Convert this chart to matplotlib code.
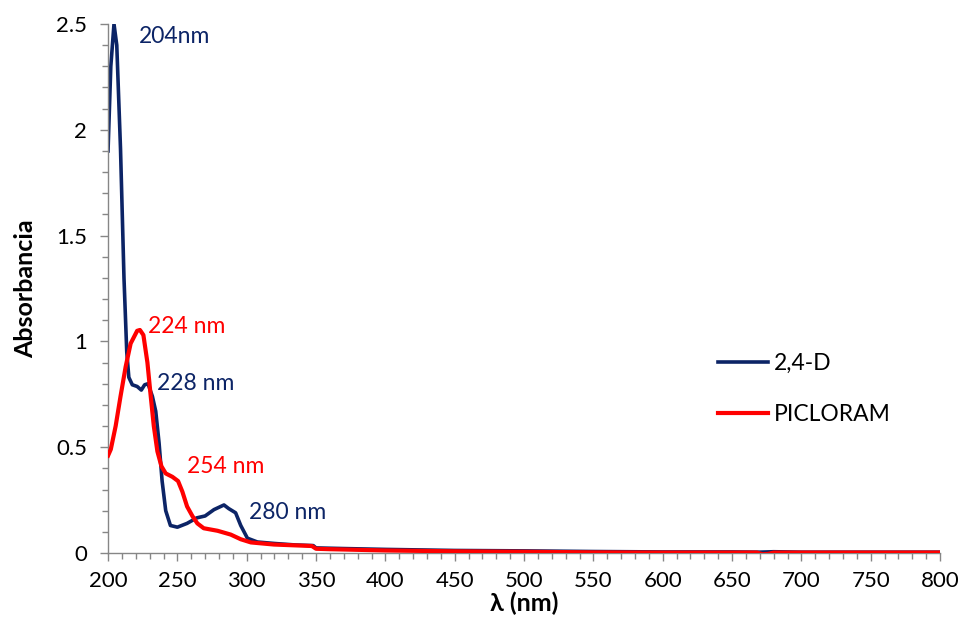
import matplotlib
matplotlib.use("Agg")
import matplotlib.pyplot as plt
from matplotlib.ticker import MultipleLocator, FuncFormatter

# ---- data ----
wl_24d = [200, 202, 204.3, 206.3, 209, 211.5, 213.5, 215, 217.5, 221, 224, 226.4, 228.8,
          232, 234.4, 236.8, 239, 241.6, 245, 250, 257, 264, 270, 276.4, 283.6, 287,
          292, 295.7, 300.5, 307.7, 320, 335, 348, 350, 370, 400, 450, 500, 550, 600,
          650, 670, 680, 700, 750, 800]
abs_24d = [1.90, 2.30, 2.50, 2.40, 1.91, 1.30, 0.95, 0.83, 0.795, 0.787, 0.77, 0.795, 0.80,
           0.74, 0.67, 0.52, 0.34, 0.20, 0.13, 0.122, 0.14, 0.166, 0.175, 0.205, 0.227, 0.21,
           0.19, 0.13, 0.07, 0.052, 0.045, 0.038, 0.035, 0.024, 0.021, 0.017, 0.012, 0.010,
           0.007, 0.005, 0.005, 0.004, 0.006, 0.004, 0.004, 0.004]

wl_pic = [200, 202, 205.5, 209, 212.7, 216.3, 221, 223, 225.5, 228.4, 230.8, 233, 235.6,
          238.5, 241.6, 246.4, 250.5, 253.6, 257, 260.8, 264.4, 269, 279, 288.5, 295.7,
          303, 319.7, 347, 350, 360, 400, 450, 500, 550, 600, 650, 668, 672, 676, 680,
          700, 750, 800]
abs_pic = [0.46, 0.49, 0.60, 0.74, 0.88, 0.99, 1.05, 1.054, 1.03, 0.90, 0.74, 0.60, 0.48,
           0.41, 0.376, 0.36, 0.34, 0.29, 0.22, 0.175, 0.14, 0.117, 0.105, 0.087, 0.065,
           0.05, 0.04, 0.033, 0.02, 0.018, 0.012, 0.008, 0.006, 0.003, 0.002, 0.002, 0.002,
           -0.006, -0.004, 0.002, 0.002, 0.002, 0.002]

peak_labels = ["204nm", "224 nm", "228 nm", "254 nm", "280 nm"]
peak_pos = [(222.5, 2.44), (229, 1.07), (235, 0.80), (257, 0.41), (302, 0.19)]
peak_series = ["2,4-D", "PICLORAM", "2,4-D", "PICLORAM", "2,4-D"]

series_names = ["2,4-D", "PICLORAM"]
colors = {"2,4-D": "#0c2466", "PICLORAM": "#ff0000"}

plt.rcParams['font.family'] = ['Lato', 'DejaVu Sans']

fig = plt.figure(figsize=(9.62, 6.25), dpi=100)
ax = fig.add_axes([0.1123, 0.1152, 0.8649, 0.8464])

ax.plot(wl_24d, abs_24d, color=colors["2,4-D"], lw=2.6, label=series_names[0],
        solid_joinstyle='round', zorder=2)
ax.plot(wl_pic, abs_pic, color=colors["PICLORAM"], lw=3.0, label=series_names[1],
        solid_joinstyle='round', zorder=3)

for txt, (x, y), s in zip(peak_labels, peak_pos, peak_series):
    ax.text(x, y, txt, color=colors[s], fontsize=16.5, ha='left', va='center')

ax.set_xlim(200, 800)
ax.set_ylim(0, 2.5)
ax.xaxis.set_major_locator(MultipleLocator(50))
ax.xaxis.set_minor_locator(MultipleLocator(10))
ax.yaxis.set_major_locator(MultipleLocator(0.5))
ax.yaxis.set_minor_locator(MultipleLocator(0.1))
ax.yaxis.set_major_formatter(FuncFormatter(lambda v, p: f"{v:g}"))

for side in ['top', 'right']:
    ax.spines[side].set_visible(False)
for side in ['left', 'bottom']:
    ax.spines[side].set_color('#868686')
    ax.spines[side].set_linewidth(1.0)

ax.tick_params(axis='both', which='major', direction='out', color='#868686',
               labelsize=16, length=6, width=1)
ax.tick_params(axis='both', which='minor', direction='out', color='#868686',
               length=4, width=1)
ax.tick_params(axis='x', which='major', pad=7)
ax.tick_params(axis='y', which='major', pad=9)

ax.set_xlabel("λ (nm)", fontsize=18, fontweight='bold', labelpad=0)
ax.set_ylabel("Absorbancia", fontsize=18, fontweight='bold', labelpad=14)

leg = ax.legend(loc='center left', bbox_to_anchor=(0.708, 0.31), frameon=False,
                fontsize=16.5, handlelength=2.2, labelspacing=1.3, handletextpad=0.25)

fig.savefig("out.png", dpi=100)
